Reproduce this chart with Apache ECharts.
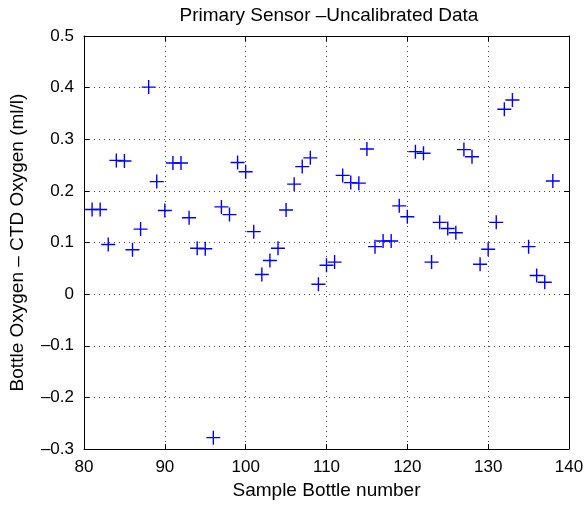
<!DOCTYPE html>
<html><head><meta charset="utf-8">
<script src="https://cdn.jsdelivr.net/npm/echarts@6/dist/echarts.min.js"></script>
<style>html,body{margin:0;padding:0;background:#fff}#c{width:587px;height:508px}</style>
</head><body><div id="c"></div>
<script>
const bottleNumbers = [81,82,83,84,85,86,87,88,89,90,91,92,93,94,95,96,97,98,99,100,101,102,103,104,105,106,107,108,109,110,111,112,113,114,115,116,117,118,119,120,121,122,123,124,125,126,127,128,129,130,131,132,133,135,136,137,138];
const oxygenDiff = [0.164,0.164,0.096,0.259,0.258,0.086,0.126,0.401,0.218,0.162,0.254,0.254,0.148,0.089,0.088,-0.278,0.169,0.154,0.255,0.237,0.121,0.038,0.065,0.089,0.163,0.213,0.247,0.264,0.019,0.056,0.062,0.230,0.216,0.215,0.281,0.092,0.103,0.103,0.171,0.150,0.276,0.273,0.062,0.139,0.127,0.119,0.280,0.266,0.058,0.087,0.139,0.358,0.376,0.092,0.036,0.023,0.219];
const xTicks = [80,90,100,110,120,130,140];
const yTicks = [-0.3,-0.2,-0.1,0,0.1,0.2,0.3,0.4,0.5];
const titleText = 'Primary Sensor \u2013Uncalibrated Data';
const xLabel = 'Sample Bottle number';
const yLabel = 'Bottle Oxygen \u2013 CTD Oxygen (ml/l)';

const font = 'Liberation Sans, Arial, Helvetica, sans-serif';
const FS = 17;
const LFS = 19;
const chart = echarts.init(document.getElementById('c'), null, {renderer:'canvas'});
const fmtY = v => (Math.abs(v) < 1e-9 ? '0' : v.toFixed(1).replace('-', '\u2013'));
const axisCommon = {
  axisLine:{show:true,onZero:false,lineStyle:{color:'#000',width:1}},
  axisTick:{show:true,inside:true,length:5,lineStyle:{color:'#000'}},
  splitLine:{show:false},
};
const gridLine = {show:true,lineStyle:{color:'#444',type:[1,4],width:1}};
chart.setOption({
  animation:false,
  backgroundColor:'#fff',
  title:{text:titleText,left:324,top:1,textAlign:'center',textStyle:{fontFamily:font,fontSize:LFS,fontWeight:'normal',color:'#000'}},
  grid:{left:82,right:18,top:36,bottom:59,containLabel:false},
  xAxis:[
    Object.assign({type:'value',min:xTicks[0],max:xTicks[xTicks.length-1],interval:10,position:'bottom',
      name:xLabel,nameLocation:'middle',nameGap:32,nameTextStyle:{fontFamily:font,fontSize:LFS,color:'#000'},
      axisLabel:{fontFamily:font,fontSize:FS,color:'#000',margin:10},
    },axisCommon,{splitLine:gridLine}),
    Object.assign({type:'value',min:xTicks[0],max:xTicks[xTicks.length-1],interval:10,position:'top',axisLabel:{show:false}},axisCommon)
  ],
  yAxis:[
    Object.assign({type:'value',min:yTicks[0],max:yTicks[yTicks.length-1],interval:0.1,position:'left',
      name:yLabel,nameLocation:'middle',nameGap:57,nameRotate:90,nameTextStyle:{fontFamily:font,fontSize:LFS,color:'#000'},
      axisLabel:{fontFamily:font,fontSize:FS,color:'#000',margin:10,formatter:fmtY},
    },axisCommon,{splitLine:gridLine}),
    Object.assign({type:'value',min:yTicks[0],max:yTicks[yTicks.length-1],interval:0.1,position:'right',axisLabel:{show:false}},axisCommon)
  ],
  series:[{
    type:'scatter',
    data:bottleNumbers.map((b,i)=>[b,oxygenDiff[i]]),
    symbol:'path://M0,45H100V55H0Z M45,0H55V100H45Z',
    symbolSize:14,
    itemStyle:{color:'#0000ff',opacity:1},
    emphasis:{disabled:true}
  }]
});
</script></body></html>
